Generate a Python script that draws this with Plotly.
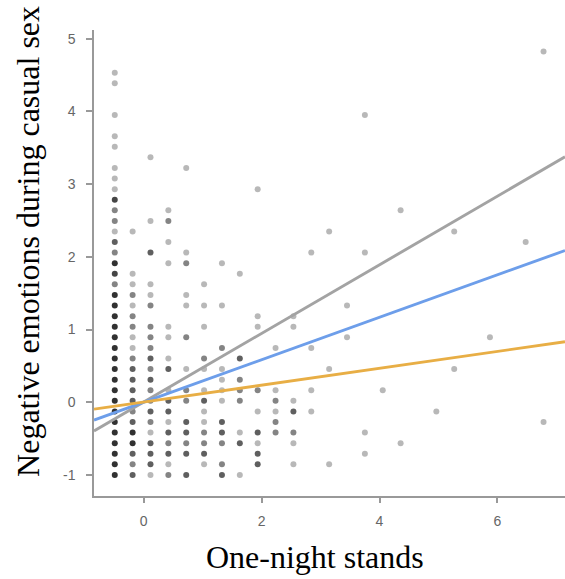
import plotly.graph_objects as go

# Column positions (One-night stands, standardized)
X_LEVELS = [-0.49, -0.187, 0.116, 0.419, 0.722, 1.025, 1.328, 1.631, 1.934, 2.237,
            2.54, 2.843, 3.146, 3.449, 3.752, 4.055, 4.358, 4.661, 4.964, 5.267,
            5.57, 5.873, 6.176, 6.479, 6.782]
# Row positions (Negative emotions, standardized)
Y_LEVELS = [-1.0, -0.854, -0.709, -0.563, -0.418, -0.272, -0.126, 0.019, 0.165, 0.310,
            0.456, 0.602, 0.747, 0.893, 1.038, 1.184, 1.330, 1.475, 1.621, 1.766,
            1.912, 2.058, 2.203, 2.349, 2.494, 2.640, 2.786, 2.931, 3.077, 3.222,
            3.368, 3.514, 3.659, 3.805, 3.950, 4.096, 4.242, 4.387, 4.533, 4.678,
            4.824]

# Observed points: column index -> list of (row index, number of overlapping cases)
POINTS = {
    0: [(0, 5), (1, 5), (2, 5), (3, 5), (4, 5), (5, 5), (6, 5), (7, 5), (8, 5), (9, 5),
        (10, 5), (11, 5), (12, 5), (13, 5), (14, 5), (15, 5), (16, 5), (17, 5), (18, 2),
        (19, 4), (20, 5), (21, 2), (22, 3), (23, 1), (24, 2), (25, 2), (26, 4), (27, 1),
        (28, 1), (29, 1), (31, 1), (32, 1), (34, 1), (37, 1), (38, 1)],
    1: [(0, 3), (1, 2), (2, 3), (3, 5), (4, 5), (5, 3), (6, 2), (7, 3), (8, 3), (9, 3),
        (10, 3), (11, 2), (12, 1), (13, 1), (14, 2), (15, 2), (16, 1), (17, 2), (18, 1),
        (19, 1), (23, 1)],
    2: [(0, 1), (1, 3), (2, 3), (3, 3), (4, 1), (5, 2), (6, 3), (7, 2), (8, 2), (9, 3),
        (10, 2), (11, 3), (12, 2), (13, 2), (14, 2), (16, 2), (17, 1), (18, 1), (21, 3),
        (24, 1), (30, 1)],
    3: [(0, 2), (1, 1), (2, 3), (3, 2), (4, 3), (5, 1), (6, 3), (7, 3), (8, 1), (10, 3),
        (11, 1), (13, 1), (14, 1), (20, 1), (22, 1), (24, 2), (25, 1)],
    4: [(0, 3), (2, 3), (3, 2), (4, 3), (5, 3), (7, 2), (8, 2), (10, 1), (13, 2), (16, 1),
        (17, 1), (20, 2), (21, 1), (29, 1)],
    5: [(1, 1), (2, 3), (3, 2), (4, 2), (5, 1), (6, 1), (7, 3), (8, 1), (10, 1), (11, 2),
        (14, 1), (16, 1), (18, 1)],
    6: [(0, 3), (1, 2), (3, 2), (4, 3), (5, 3), (7, 1), (8, 1), (9, 1), (10, 1), (12, 2),
        (16, 1), (20, 1)],
    7: [(0, 1), (3, 3), (4, 1), (7, 2), (8, 2), (9, 2), (11, 3), (19, 1)],
    8: [(1, 3), (2, 3), (3, 1), (4, 3), (6, 1), (8, 2), (14, 1), (15, 1), (27, 1)],
    9: [(4, 2), (5, 2), (6, 1), (7, 2), (8, 1), (12, 1)],
    10: [(1, 1), (3, 1), (4, 2), (6, 3), (7, 1), (14, 1), (15, 1)],
    11: [(6, 1), (8, 1), (12, 1), (21, 1)],
    12: [(1, 1), (10, 1), (23, 1)],
    13: [(13, 1), (16, 1)],
    14: [(2, 1), (4, 1), (21, 1), (34, 1)],
    15: [(8, 1)],
    16: [(3, 1), (25, 1)],
    18: [(6, 1)],
    19: [(10, 1), (23, 1)],
    21: [(13, 1)],
    23: [(22, 1)],
    24: [(5, 1), (40, 1)],
}

# Fitted regression lines (slope, intercept) per group
FIT_NAMES = ["grey", "blue", "orange"]
FIT_SLOPES = [0.472, 0.292, 0.116]
FIT_INTERCEPTS = [0.002, 0.0, 0.003]
FIT_COLORS = ["#a3a3a3", "#6d9eea", "#e8ae45"]

X_RANGE = [-0.842, 7.146]
Y_RANGE = [-1.29, 5.12]
X_TICKS = [0, 2, 4, 6]
X_TICK_LABELS = ["0", "2", "4", "6"]
Y_TICKS = [-1, 0, 1, 2, 3, 4, 5]
Y_TICK_LABELS = ["-1", "0", "1", "2", "3", "4", "5"]

px, py, pc = [], [], []
for ci, rows in POINTS.items():
    for ri, n in rows:
        px.append(X_LEVELS[ci])
        py.append(Y_LEVELS[ri])
        a = 1 - 0.72 ** n
        pc.append(f"rgba(0,0,0,{a:.3f})")

fig = go.Figure()
fig.add_trace(go.Scatter(x=px, y=py, mode="markers",
                         marker=dict(size=6, color=pc, line=dict(width=0)),
                         showlegend=False, hoverinfo="skip"))

for name, s, b, col in zip(FIT_NAMES, FIT_SLOPES, FIT_INTERCEPTS, FIT_COLORS):
    xs = [X_RANGE[0], X_RANGE[1]]
    ys = [b + s * v for v in xs]
    fig.add_trace(go.Scatter(x=xs, y=ys, mode="lines", name=name,
                             line=dict(color=col, width=2.9), showlegend=False))

axis_common = dict(showgrid=False, zeroline=False, showline=True,
                   linecolor="#999999", linewidth=1.5, ticks="outside",
                   tickcolor="#999999", tickwidth=1.5,
                   tickfont=dict(family="Liberation Sans, Arial", size=14, color="#666666"))

fig.update_layout(
    width=565, height=579,
    margin=dict(l=94, r=0, t=30, b=83),
    plot_bgcolor="white", paper_bgcolor="white",
    xaxis=dict(range=X_RANGE, tickvals=X_TICKS, ticktext=X_TICK_LABELS, ticklen=5,
               ticklabelstandoff=6, **axis_common),
    yaxis=dict(range=Y_RANGE, tickvals=Y_TICKS, ticktext=Y_TICK_LABELS, ticklen=6,
               ticklabelstandoff=8, **axis_common),
    annotations=[
        dict(text="One-night stands", xref="paper", yref="paper",
             x=0.4685, y=-0.13, xanchor="center", yanchor="middle", showarrow=False,
             font=dict(family="Liberation Serif, Times New Roman", size=32, color="black")),
        dict(text="Negative emotions during casual sex", xref="paper", yref="paper",
             x=-0.1415, y=0.546, xanchor="center", yanchor="middle", showarrow=False,
             textangle=-90,
             font=dict(family="Liberation Serif, Times New Roman", size=32, color="black")),
    ],
)

fig.write_html("out.html", config={"displayModeBar": False},
               post_script="document.body.style.margin='0px';")
